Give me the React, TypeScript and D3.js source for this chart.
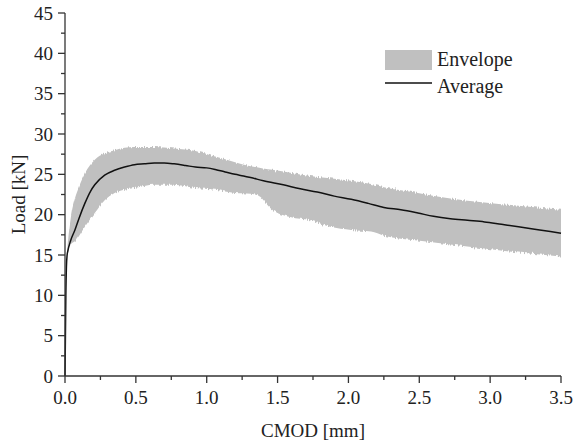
import React from "react";
import * as d3 from "d3";

// Average load–CMOD curve
const avgX = [0, 0.003, 0.006, 0.01, 0.015, 0.02, 0.04, 0.07, 0.1, 0.14, 0.18, 0.21, 0.28, 0.35, 0.42, 0.49, 0.56, 0.63, 0.7, 0.77, 0.85, 0.92, 1.0, 1.06, 1.13, 1.2, 1.26, 1.31, 1.4, 1.54, 1.66, 1.78, 1.9, 2.02, 2.14, 2.25, 2.37, 2.49, 2.6, 2.72, 2.84, 2.96, 3.08, 3.2, 3.35, 3.5];
const avgY = [0, 5, 10, 13.5, 15, 15.5, 16.8, 18.1, 19.6, 21.4, 22.9, 23.7, 24.9, 25.5, 25.9, 26.2, 26.3, 26.4, 26.4, 26.3, 26.1, 25.9, 25.8, 25.6, 25.3, 25.0, 24.8, 24.6, 24.2, 23.7, 23.2, 22.8, 22.3, 21.9, 21.4, 20.9, 20.6, 20.2, 19.8, 19.5, 19.3, 19.1, 18.8, 18.5, 18.1, 17.7];

// Envelope (min / max over all specimens)
const envX = [0.015, 0.02, 0.04, 0.07, 0.1, 0.14, 0.21, 0.28, 0.35, 0.42, 0.49, 0.63, 0.77, 0.92, 1.06, 1.2, 1.31, 1.38, 1.41, 1.45, 1.59, 1.73, 1.87, 2.02, 2.16, 2.25, 2.49, 2.72, 2.96, 3.2, 3.5];
const envUpper = [15.5, 16.5, 19.5, 22, 23.5, 25.1, 26.8, 27.6, 28.0, 28.3, 28.4, 28.4, 28.2, 27.9, 27.2, 26.5, 26.0, 25.8, 25.7, 25.6, 25.2, 24.8, 24.5, 24.2, 23.8, 23.4, 22.7, 22.0, 21.5, 21.1, 20.6];
const envLower = [15, 15.3, 16.3, 16.7, 17.4, 18.5, 20.2, 21.8, 22.7, 23.1, 23.3, 23.7, 23.7, 23.3, 23.1, 22.7, 22.6, 22.2, 21.6, 20.8, 19.7, 19.3, 18.5, 18.1, 17.9, 17.4, 16.8, 16.3, 15.8, 15.3, 14.8];

const xTicks = [0, 0.5, 1, 1.5, 2, 2.5, 3, 3.5];
const yTicks = [0, 5, 10, 15, 20, 25, 30, 35, 40, 45];
const legendLabels = ["Envelope", "Average"];

const W = 573;
const H = 443;
const FONT = "'Liberation Serif', 'Times New Roman', serif";

export default function App() {
  const x = d3.scaleLinear().domain([0, 3.5]).range([65, 561]);
  const y = d3.scaleLinear().domain([0, 45]).range([376, 13]);

  const envData = envX.map((v, i) => ({ x: v, lo: envLower[i], hi: envUpper[i] }));
  const avgData = avgX.map((v, i) => ({ x: v, y: avgY[i] }));

  const area = d3
    .area<{ x: number; lo: number; hi: number }>()
    .x((d) => x(d.x))
    .y0((d) => y(d.lo))
    .y1((d) => y(d.hi))
    .curve(d3.curveMonotoneX);

  const line = d3
    .line<{ x: number; y: number }>()
    .x((d) => x(d.x))
    .y((d) => y(d.y))
    .curve(d3.curveMonotoneX);

  const xMinor = d3.range(0.25, 3.5, 0.5);
  const yMinor = d3.range(2.5, 45, 5);

  return (
    <svg
      width={W}
      height={H}
      style={{ position: "absolute", left: 0, top: 0, background: "#fff" }}
      fontFamily={FONT}
    >
      <defs>
        {/* ragged vertical edges for the scatter band */}
        <filter id="rough" x="-5%" y="-20%" width="110%" height="140%">
          <feTurbulence type="fractalNoise" baseFrequency="0.9 0.03" numOctaves={2} seed={3} result="noise" />
          <feColorMatrix
            in="noise"
            type="matrix"
            values="0 0 0 0 0.5  0 1 0 0 0  0 0 1 0 0  0 0 0 0 1"
            result="noiseY"
          />
          <feDisplacementMap in="SourceGraphic" in2="noiseY" scale={5} xChannelSelector="R" yChannelSelector="G" />
        </filter>
      </defs>

      {/* envelope band */}
      <path d={area(envData) ?? ""} fill="#c0c0c0" filter="url(#rough)" />

      {/* average curve */}
      <path d={line(avgData) ?? ""} fill="none" stroke="#111" strokeWidth={1.5} strokeLinejoin="round" />

      {/* axes */}
      <g stroke="#333" strokeWidth={1.3} fill="none">
        <line x1={x(0)} x2={x(0)} y1={y(45)} y2={y(0)} />
        <line x1={x(0)} x2={x(3.5)} y1={y(0)} y2={y(0)} />
        {xTicks.map((t) => (
          <line key={"xt" + t} x1={x(t)} x2={x(t)} y1={y(0)} y2={y(0) + 7} />
        ))}
        {xMinor.map((t) => (
          <line key={"xm" + t} x1={x(t)} x2={x(t)} y1={y(0)} y2={y(0) + 4} />
        ))}
        {yTicks.map((t) => (
          <line key={"yt" + t} x1={x(0) - 7} x2={x(0)} y1={y(t)} y2={y(t)} />
        ))}
        {yMinor.map((t) => (
          <line key={"ym" + t} x1={x(0) - 4} x2={x(0)} y1={y(t)} y2={y(t)} />
        ))}
      </g>

      <g fontSize={19} fill="#222">
        {xTicks.map((t) => (
          <text key={"xl" + t} x={x(t)} y={404} textAnchor="middle">
            {d3.format(".1f")(t)}
          </text>
        ))}
        {yTicks.map((t) => (
          <text key={"yl" + t} x={53} y={y(t)} dy="0.35em" textAnchor="end">
            {t}
          </text>
        ))}
        <text x={x(1.75)} y={437} textAnchor="middle">
          CMOD [mm]
        </text>
        <text transform={`translate(25, ${y(22.5)}) rotate(-90)`} textAnchor="middle">
          Load [kN]
        </text>
      </g>

      {/* legend */}
      <g fontSize={20} fill="#222">
        <rect x={385} y={50} width={47} height={20} fill="#c0c0c0" />
        <text x={437} y={66}>
          {legendLabels[0]}
        </text>
        <line x1={385} x2={432} y1={83} y2={83} stroke="#111" strokeWidth={1.5} />
        <text x={437} y={93}>
          {legendLabels[1]}
        </text>
      </g>
    </svg>
  );
}
